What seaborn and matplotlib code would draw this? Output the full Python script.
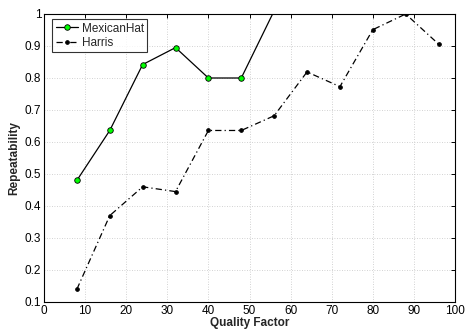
import matplotlib
matplotlib.use("Agg")
import matplotlib.pyplot as plt
import seaborn as sns
import pandas as pd

quality_mh = [8, 16, 24, 32, 40, 48, 56]
rep_mh = [0.48, 0.636, 0.842, 0.895, 0.80, 0.80, 1.01]
quality_harris = [8, 16, 24, 32, 40, 48, 56, 64, 72, 80, 88, 96]
rep_harris = [0.14, 0.37, 0.46, 0.445, 0.636, 0.636, 0.682, 0.819, 0.773, 0.951, 1.0, 0.906]
x_ticks = list(range(0, 101, 10))
y_ticks = [0.1, 0.2, 0.3, 0.4, 0.5, 0.6, 0.7, 0.8, 0.9, 1.0]
y_tick_labels = ["0.1", "0.2", "0.3", "0.4", "0.5", "0.6", "0.7", "0.8", "0.9", "1"]

sns.set_style("white")
plt.rcParams['font.family'] = ['Liberation Sans', 'DejaVu Sans']

df_mh = pd.DataFrame({"q": quality_mh, "r": rep_mh})
df_h = pd.DataFrame({"q": quality_harris, "r": rep_harris})

fig = plt.figure(figsize=(4.66, 3.30), dpi=100)
ax = fig.add_axes([44/466, 28/330, 411/466, 288/330])

sns.lineplot(data=df_mh, x="q", y="r", ax=ax, color="black", linewidth=0.9,
             marker="o", markersize=4, markerfacecolor="#00ff00",
             markeredgecolor="black", markeredgewidth=0.6, label="MexicanHat")
sns.lineplot(data=df_h, x="q", y="r", ax=ax, color="black", linewidth=0.9,
             linestyle=(0, (5, 2.5, 1, 2.5)), marker="o", markersize=2.6,
             markerfacecolor="black", markeredgecolor="black", label="Harris")

ax.set_xlim(0, 100)
ax.set_ylim(0.1, 1.0)
ax.set_xticks(x_ticks)
ax.set_yticks(y_ticks)
ax.set_yticklabels(y_tick_labels)
ax.grid(True, color="#c4c4c4", linestyle=(0, (1, 2)), linewidth=0.6)
ax.tick_params(direction="in", length=3, width=0.7, labelsize=8.5, top=True, right=True,
               pad=2, colors="black")
for s in ax.spines.values():
    s.set_color("black")
    s.set_linewidth(0.8)
ax.set_xlabel("Quality Factor", fontsize=8.5, fontweight="bold", labelpad=0)
ax.set_ylabel("Repeatability", fontsize=8.5, fontweight="bold", labelpad=3)

leg = ax.legend(loc="upper left", bbox_to_anchor=(8/411, 1 - 5/288), fontsize=8.5,
                frameon=True, fancybox=False, borderaxespad=0, handlelength=1.9,
                borderpad=0.3, labelspacing=0.2, handletextpad=0.3)
leg.get_frame().set_edgecolor("black")
leg.get_frame().set_linewidth(0.8)

fig.savefig("out.png", dpi=100)
